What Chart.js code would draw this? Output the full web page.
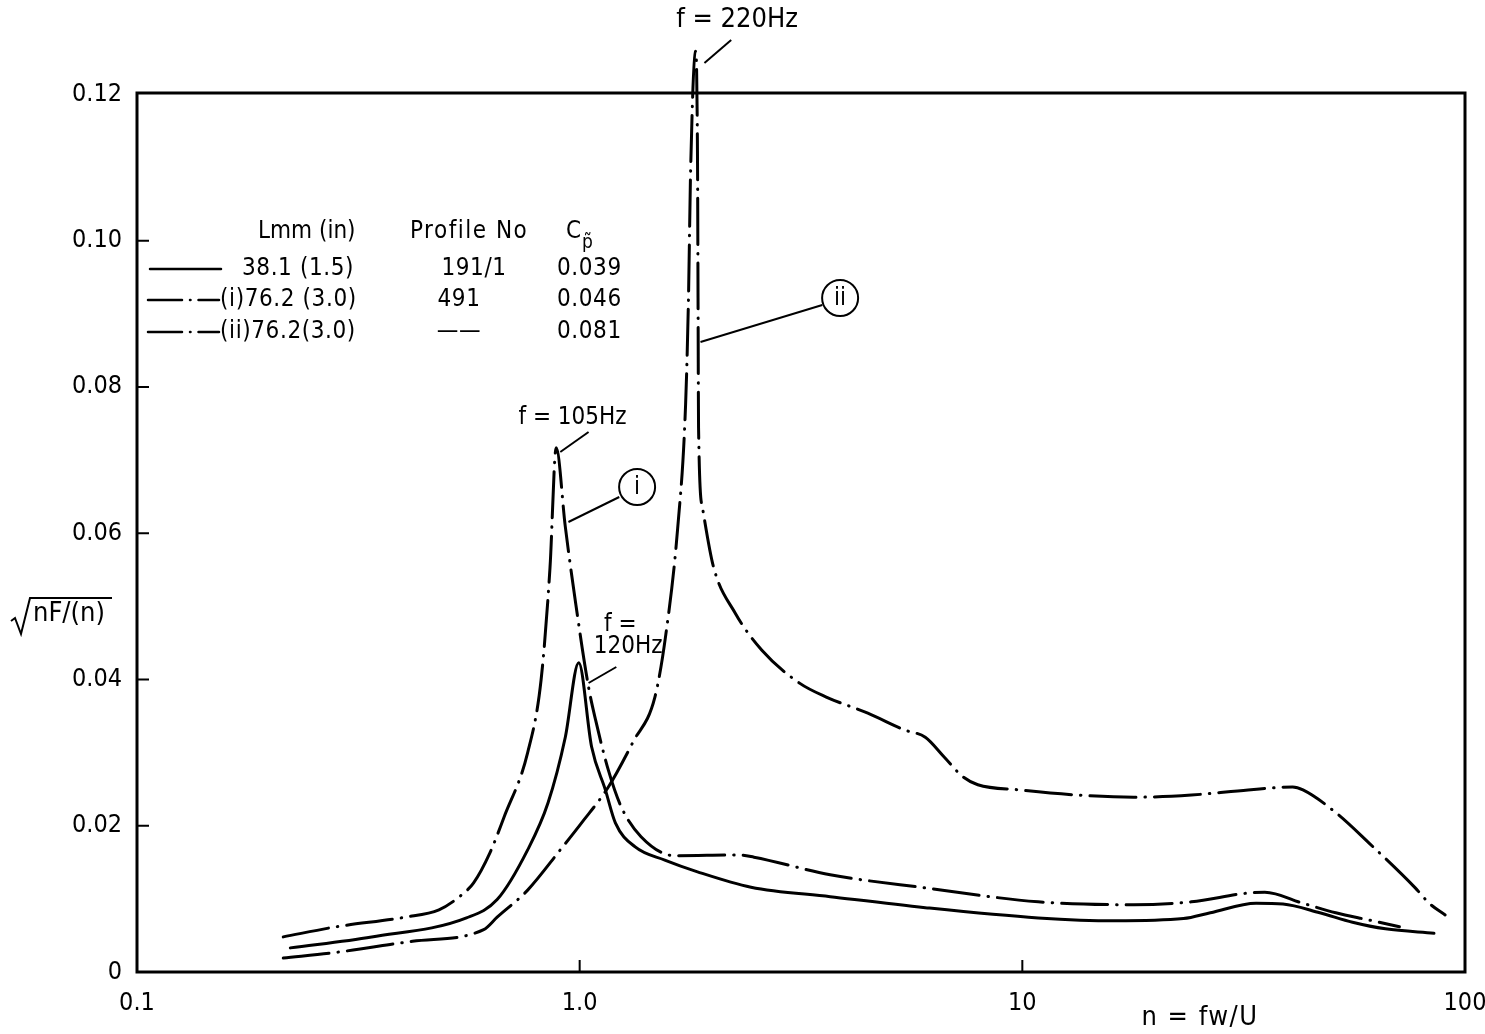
<!DOCTYPE html>
<html lang="en">
<head>
<meta charset="UTF-8">
<title>sqrt(nF(n)) against n = fw/U</title>
<script src="https://cdn.jsdelivr.net/npm/chart.js"></script>
<style>
  html, body { margin: 0; padding: 0; background: #fff; }
  #wrap { position: relative; width: 1485px; height: 1034px; }
</style>
</head>
<body>
<div id="wrap"><canvas id="spectrum"></canvas></div>
<script>
// values: n = fw/U and sqrt(nF(n))
const solidN = [0.222, 0.339, 0.555, 0.651, 0.763, 0.848, 0.928, 0.995, 1.064, 1.143, 1.204, 1.335, 1.557, 1.846, 2.438, 3.681, 6.036, 10.86, 16.18, 23.12, 26.59, 33.73, 38.8, 46.97, 55.71, 66.1, 85.1];
const solidV = [0.0033, 0.0048, 0.0074, 0.0099, 0.0167, 0.0231, 0.0321, 0.0423, 0.0308, 0.0249, 0.0204, 0.0171, 0.0153, 0.0137, 0.0116, 0.0103, 0.0088, 0.0074, 0.0070, 0.0073, 0.0081, 0.0094, 0.0093, 0.0081, 0.0068, 0.0059, 0.0053];

const curve1N = [0.214, 0.283, 0.404, 0.481, 0.535, 0.576, 0.627, 0.675, 0.763, 0.818, 0.857, 0.885, 0.928, 0.979, 1.047, 1.086, 1.161, 1.241, 1.376, 1.640, 2.292, 2.476, 3.681, 6.036, 10.86, 17.85, 24.1, 32.36, 35.3, 43.05, 51.05, 60.8, 71.1];
const curve1V = [0.0048, 0.0062, 0.0075, 0.0085, 0.0103, 0.0122, 0.0163, 0.0212, 0.0300, 0.0399, 0.0553, 0.0717, 0.0609, 0.0505, 0.0390, 0.0345, 0.0276, 0.0226, 0.0185, 0.0159, 0.0160, 0.0157, 0.0133, 0.0115, 0.0096, 0.0092, 0.0096, 0.0108, 0.0109, 0.0094, 0.0081, 0.0071, 0.0062];

const curve2N = [0.214, 0.283, 0.419, 0.607, 0.651, 0.763, 0.904, 1.010, 1.161, 1.321, 1.479, 1.565, 1.665, 1.735, 1.762, 1.780, 1.827, 1.846, 1.851, 1.856, 1.894, 2.004, 2.245, 2.580, 3.138, 3.606, 4.477, 5.418, 6.036, 6.658, 7.340, 7.933, 9.85, 13.29, 17.85, 24.1, 32.36, 40.8, 43.05, 51.05, 60.8, 77.2, 83.0, 90.2];
const curve2V = [0.0019, 0.0027, 0.0042, 0.0058, 0.0075, 0.0112, 0.0167, 0.0204, 0.0253, 0.0315, 0.0376, 0.0461, 0.0607, 0.0776, 0.0927, 0.1090, 0.1259, 0.1111, 0.0922, 0.0744, 0.0635, 0.0555, 0.0491, 0.0440, 0.0395, 0.0376, 0.0354, 0.0331, 0.0321, 0.0294, 0.0267, 0.0256, 0.0249, 0.0242, 0.0239, 0.0242, 0.0249, 0.0253, 0.0249, 0.0218, 0.0176, 0.0115, 0.0094, 0.0078];

const xTickValues = [0.1, 1, 10, 100];
const xTickLabels = ['0.1', '1.0', '10', '100'];
const yTickValues = [0, 0.02, 0.04, 0.06, 0.08, 0.10, 0.12];
const yTickLabels = ['0', '0.02', '0.04', '0.06', '0.08', '0.10', '0.12'];

// key table
const legendL = ['38.1 (1.5)', '(i)76.2 (3.0)', '(ii)76.2(3.0)'];
const legendProfile = ['191/1', '491', '——'];
const legendCp = ['0.039', '0.046', '0.081'];

const FONT = '"DejaVu Sans Condensed", "DejaVu Sans", sans-serif';
const DASHDOT = [46, 9, 0.5, 9];

const toPoints = (ns, vs) => ns.map((n, i) => ({ x: n, y: vs[i] }));

// annotation positions are given in drawing pixels; x goes through the log axis
const decades = [137, 571, 1018, 1463];
function refN(px) {
  let k = 0;
  while (k < 2 && px > decades[k + 1]) k++;
  return Math.pow(10, k - 1 + (px - decades[k]) / (decades[k + 1] - decades[k]));
}

const decor = {
  id: 'decor',
  beforeDatasetsDraw(chart) {
    const { ctx, chartArea: a, scales: { x, y } } = chart;
    ctx.save();
    ctx.strokeStyle = '#000';
    ctx.lineWidth = 3;
    ctx.strokeRect(a.left, a.top, a.right - a.left, a.bottom - a.top);
    ctx.lineWidth = 2;
    ctx.beginPath();
    yTickValues.slice(1, -1).forEach(v => {
      const py = y.getPixelForValue(v);
      ctx.moveTo(a.left, py);
      ctx.lineTo(a.left + 12, py);
    });
    [1, 10].forEach(v => {
      const px = x.getPixelForValue(v);
      ctx.moveTo(px, a.bottom);
      ctx.lineTo(px, a.bottom - 12);
    });
    ctx.stroke();
    ctx.restore();
  },
  afterDraw(chart) {
    const { ctx, scales: { x } } = chart;
    const rx = px => x.getPixelForValue(refN(px));
    ctx.save();
    ctx.fillStyle = '#000';
    ctx.strokeStyle = '#000';
    ctx.textBaseline = 'middle';

    const txt = (s, px, py, size, align, spacing) => {
      ctx.font = size + 'px ' + FONT;
      ctx.textAlign = align || 'left';
      ctx.letterSpacing = (spacing || 0) + 'px';
      ctx.fillText(s, px, py);
      ctx.letterSpacing = '0px';
    };
    const seg = (x1, y1, x2, y2, w) => {
      ctx.lineWidth = w || 2;
      ctx.beginPath();
      ctx.moveTo(x1, y1);
      ctx.lineTo(x2, y2);
      ctx.stroke();
    };

    // y axis title with radical sign
    txt('nF/(n)', 33, 614, 27);
    ctx.lineWidth = 2;
    ctx.beginPath();
    ctx.moveTo(11, 621);
    ctx.lineTo(15, 618);
    ctx.lineTo(21, 634);
    ctx.lineTo(30, 598);
    ctx.lineTo(112, 598);
    ctx.stroke();

    // x axis title
    txt('n = fw/U', 1200, 1018, 27, 'center', 1.5);

    // key table
    txt('Lmm (in)', 258, 232, 24);
    txt('Profile No', 410, 232, 24, 'left', 1.5);
    txt('C', 566, 232, 24);
    txt('p\u0303', 582, 243, 19);
    const rows = [269, 300, 332];
    rows.forEach((ry, i) => {
      txt(legendL[i], i === 0 ? 242 : 220, ry, 24, 'left', 0.6);
      txt(legendProfile[i], i === 0 ? 474 : 459, ry, 24, 'center', 0.6);
      txt(legendCp[i], 557, ry, 24, 'left', 0.6);
    });
    ctx.lineCap = 'round';
    seg(150, rows[0], 221, rows[0], 2.5);
    ctx.setLineDash([34, 8, 0.5, 8]);
    seg(148, rows[1], 219, rows[1], 2.5);
    seg(148, rows[2], 219, rows[2], 2.5);
    ctx.setLineDash([]);
    ctx.lineCap = 'butt';

    // peak annotations
    txt('f = 220Hz', rx(730), 20, 27, 'center');
    seg(rx(724), 40, rx(697), 63);

    txt('f = 105Hz', rx(564), 418, 24, 'center');
    seg(rx(580), 432, rx(552), 452);

    txt('f =', rx(612), 625, 24, 'center');
    txt('120Hz', rx(620), 647, 24, 'center');
    seg(rx(608), 667, rx(580), 683);

    const ring = (cx, cy, label) => {
      ctx.lineWidth = 2;
      ctx.beginPath();
      ctx.arc(cx, cy, 18, 0, Math.PI * 2);
      ctx.stroke();
      txt(label, cx, cy + 1, 24, 'center');
    };
    ring(rx(629), 487, 'i');
    seg(rx(611), 497, rx(560), 522);
    ring(rx(834), 298, 'ii');
    seg(rx(816), 305, rx(693), 342);

    ctx.restore();
  }
};

const lineDefaults = {
  borderColor: '#000',
  borderWidth: 3,
  pointRadius: 0,
  fill: false,
  cubicInterpolationMode: 'monotone',
  borderCapStyle: 'round',
  clip: false
};

new Chart(document.getElementById('spectrum'), {
  type: 'line',
  data: {
    datasets: [
      { ...lineDefaults, label: '38.1 (1.5) 191/1', data: toPoints(solidN, solidV) },
      { ...lineDefaults, label: '(i) 76.2 (3.0) 491', data: toPoints(curve1N, curve1V), borderDash: DASHDOT },
      { ...lineDefaults, label: '(ii) 76.2 (3.0)', data: toPoints(curve2N, curve2V), borderDash: DASHDOT }
    ]
  },
  options: {
    responsive: true,
    maintainAspectRatio: false,
    animation: false,
    layout: { padding: { top: 93, right: 20, left: 0, bottom: 0 } },
    plugins: {
      legend: { display: false },
      tooltip: { enabled: false }
    },
    scales: {
      x: {
        type: 'logarithmic',
        min: 0.1,
        max: 100,
        grid: { display: false, drawTicks: false },
        border: { display: false },
        afterBuildTicks: axis => { axis.ticks = xTickValues.map(v => ({ value: v })); },
        afterFit: axis => {
          axis.height = 62;
          axis.paddingLeft = 0;
          axis.paddingRight = 0;
        },
        ticks: {
          autoSkip: false,
          maxRotation: 0,
          padding: 16,
          color: '#000',
          font: { family: FONT, size: 25 },
          callback: (v, i) => xTickLabels[i]
        }
      },
      y: {
        type: 'linear',
        min: 0,
        max: 0.1202,
        grid: { display: false, drawTicks: false },
        border: { display: false },
        afterBuildTicks: axis => { axis.ticks = yTickValues.map(v => ({ value: v })); },
        afterFit: axis => { axis.width = 137; },
        ticks: {
          padding: 15,
          color: '#000',
          font: { family: FONT, size: 25 },
          callback: (v, i) => yTickLabels[i]
        }
      }
    }
  },
  plugins: [decor]
});
</script>
</body>
</html>
